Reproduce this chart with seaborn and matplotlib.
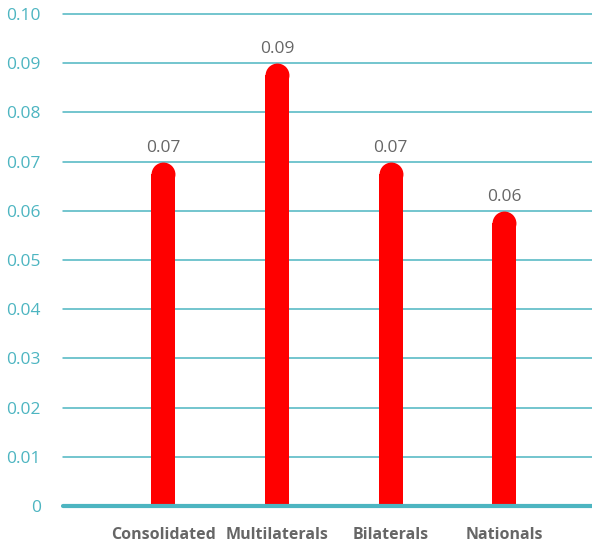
import matplotlib
matplotlib.use("Agg")
import matplotlib.pyplot as plt
import seaborn as sns
import pandas as pd

categories = ["Consolidated", "Multilaterals", "Bilaterals", "Nationals"]
values = [0.07, 0.09, 0.07, 0.06]
yticks = [0, 0.01, 0.02, 0.03, 0.04, 0.05, 0.06, 0.07, 0.08, 0.09, 0.10]
ytick_labels = ["0", "0.01", "0.02", "0.03", "0.04", "0.05", "0.06", "0.07", "0.08", "0.09", "0.10"]

TEAL = "#4DB5C1"
RED = "#FF0000"
GRAY = "#666666"

sns.set_theme(style="white")
plt.rcParams["font.family"] = ["Open Sans", "DejaVu Sans"]

df = pd.DataFrame({"cat": categories, "val": values})

fig = plt.figure(figsize=(5.92, 5.42), dpi=100)
ax = fig.add_axes([63 / 592, 36 / 542, 1 - 63 / 592, (506 - 14) / 542])

sns.barplot(data=df, x="cat", y="val", color=RED, width=0.21, saturation=1, ax=ax, zorder=3)

ax.set_ylim(0, 0.10)
ax.set_xlim(-0.88, 3.77)

# rounded tops
fig.canvas.draw()
px_per_unit = ax.transData.transform((0, 1))[1] - ax.transData.transform((0, 0))[1]
for p, v in zip(ax.patches, values):
    x0 = p.get_x()
    w = p.get_width()
    wpx = ax.transData.transform((x0 + w, 0))[0] - ax.transData.transform((x0, 0))[0]
    r = (wpx / 2) / px_per_unit
    p.set_height(v - r)
    p.set_edgecolor("none")
    ax.plot([x0 + w / 2], [v - r], marker="o", ms=wpx * 72 / 100, color=RED,
            mec="none", zorder=3)
    ax.text(x0 + w / 2, v + 0.0012, f"{v:.2f}", ha="center", va="bottom",
            color=GRAY, fontsize=12.5)

ax.set_yticks(yticks)
ax.set_yticklabels(ytick_labels)
ax.yaxis.grid(True, color=TEAL, lw=1.1, zorder=0, clip_on=False)
for gl in ax.get_ygridlines():
    gl.set_clip_on(False)
ax.axhline(0, color=TEAL, lw=3, zorder=4, clip_on=False)

ax.tick_params(axis="y", length=0, pad=16, labelcolor=TEAL, labelsize=12.5)
ax.tick_params(axis="x", length=0, pad=15, labelcolor=GRAY, labelsize=11.5)
for t in ax.get_xticklabels():
    t.set_fontweight("bold")

ax.set_xlabel("")
ax.set_ylabel("")
for s in ax.spines.values():
    s.set_visible(False)

fig.savefig("out.png", dpi=100)
